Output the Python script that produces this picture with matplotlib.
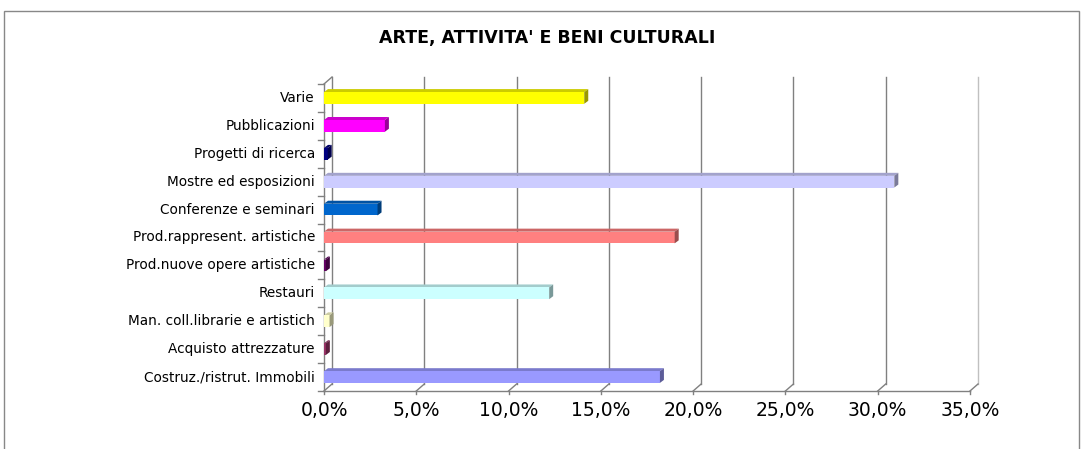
import matplotlib
matplotlib.use("Agg")
import matplotlib.pyplot as plt
from matplotlib.patches import Polygon, Rectangle
import matplotlib.colors as mcolors

# ---- data (top to bottom as shown) ----
categories = ["Varie", "Pubblicazioni", "Progetti di ricerca", "Mostre ed esposizioni",
              "Conferenze e seminari", "Prod.rappresent. artistiche",
              "Prod.nuove opere artistiche", "Restauri", "Man. coll.librarie e artistich",
              "Acquisto attrezzature", "Costruz./ristrut. Immobili"]
values = [14.1, 3.3, 0.2, 30.9, 2.9, 19.0, 0.1, 12.2, 0.3, 0.1, 18.2]
colors = ["#FFFF00", "#FF00FF", "#000080", "#CCCCFF", "#0066CC", "#FF8080",
          "#660066", "#CCFFFF", "#FFFFCC", "#993366", "#9999FF"]
ticks = [0, 5, 10, 15, 20, 25, 30, 35]
tick_labels = ["0,0%", "5,0%", "10,0%", "15,0%", "20,0%", "25,0%", "30,0%", "35,0%"]
title = "ARTE, ATTIVITA' E BENI CULTURALI"

plt.rcParams['font.family'] = ["DejaVu Sans"]
NARROW = ["DejaVu Sans Condensed", "DejaVu Sans"]

W, H = 1083, 449
fig = plt.figure(figsize=(W / 100, H / 100), dpi=100)
fig.patch.set_facecolor("white")

x0, x1, ybot, ytop = 324, 970, 391, 84
ax = fig.add_axes([x0 / W, (H - ybot) / H, (x1 - x0) / W, (ybot - ytop) / H])
ax.set_xlim(0, 35)
n = len(categories)
ax.set_ylim(-0.5, n - 0.5)
ax.axis("off")

ux = 35 / (x1 - x0)          # data units per pixel (x)
uy = n / (ybot - ytop)       # data units per pixel (y)
DX, DY = 8, 7                # wall depth in pixels
gray = "#808080"

# back wall gridlines and floor
for t in ticks:
    c = "#C0C0C0" if t == ticks[-1] else gray
    ax.plot([t + DX * ux] * 2, [-0.5 + DY * uy, n - 0.5 + DY * uy], color=c, lw=1, clip_on=False, zorder=1)
    ax.plot([t, t + DX * ux], [-0.5, -0.5 + DY * uy], color=gray, lw=1, clip_on=False, zorder=1)
    ax.plot([t, t], [-0.5, -0.5 - 3 * uy], color=gray, lw=1, clip_on=False, zorder=1)
ax.plot([0, 35], [-0.5, -0.5], color=gray, lw=1, clip_on=False, zorder=1)
# left front axis
ax.plot([0, 0], [-0.5, n - 0.5], color=gray, lw=1, clip_on=False, zorder=1)
ax.plot([0, DX * ux], [n - 0.5, n - 0.5 + DY * uy], color=gray, lw=1, clip_on=False, zorder=1)
for k in range(n + 1):
    b = k - 0.5
    ax.plot([-6 * ux, 0], [b, b], color=gray, lw=1, clip_on=False, zorder=1)

# bars (front face + top + side)
h = 0.42
bx, by = 4 * ux, 3 * uy
ys = [n - 1 - i for i in range(n)]
ax.barh(ys, values, height=h, color=colors, edgecolor="none", zorder=3)
for y, v, c in zip(ys, values, colors):
    rgb = mcolors.to_rgb(c)
    top = tuple(ch * 0.8 for ch in rgb)
    side = tuple(ch * 0.6 for ch in rgb)
    ax.add_patch(Polygon([(0, y + h / 2), (v, y + h / 2), (v + bx, y + h / 2 + by), (bx, y + h / 2 + by)],
                         closed=True, facecolor=top, edgecolor="none", zorder=2, clip_on=False))
    ax.add_patch(Polygon([(v, y - h / 2), (v + bx, y - h / 2 + by), (v + bx, y + h / 2 + by), (v, y + h / 2)],
                         closed=True, facecolor=side, edgecolor="none", zorder=4, clip_on=False))

# category labels
for y, cat in zip(ys, categories):
    ax.text(-9 * ux, y, cat, ha="right", va="center", fontsize=9.8, color="black", clip_on=False)

# x tick labels
for t, lab in zip(ticks, tick_labels):
    ax.text(t, -0.5 - 19 * uy, lab, ha="center", va="center", fontsize=13.5, color="black",
            family=NARROW, clip_on=False)

# title
fig.text(547 / W, 1 - 38 / H, title, ha="center", va="center", fontsize=12.5, fontweight="bold",
         family=NARROW)

# chart area border
fig.add_artist(Rectangle((4 / W, -0.05), 1075 / W, 1 - 11 / H + 0.05, transform=fig.transFigure,
                         fill=False, edgecolor="#888888", lw=1))

fig.savefig("out.png", dpi=100, facecolor="white")
